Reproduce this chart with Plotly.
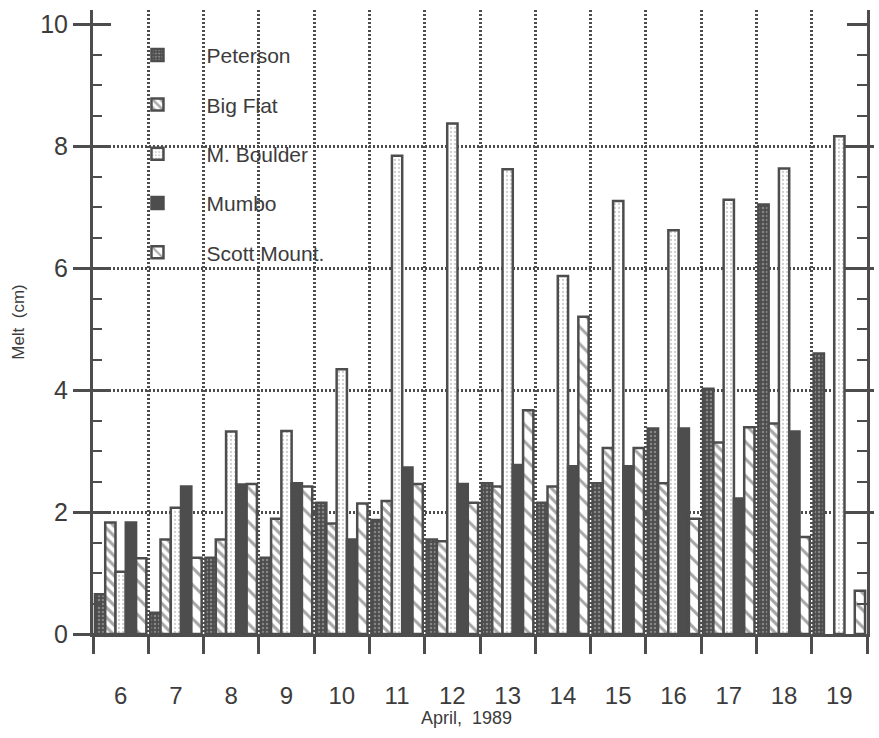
import plotly.graph_objects as go

days = [6, 7, 8, 9, 10, 11, 12, 13, 14, 15, 16, 17, 18, 19]
peterson = [0.65, 0.35, 1.25, 1.25, 2.15, 1.87, 1.55, 2.47, 2.15, 2.47, 3.37, 4.02, 7.04, 4.60]
big_flat = [1.83, 1.55, 1.55, 1.89, 1.81, 2.18, 1.52, 2.42, 2.42, 3.05, 2.47, 3.14, 3.45, None]
m_boulder = [1.02, 2.07, 3.32, 3.33, 4.34, 7.84, 8.37, 7.62, 5.87, 7.10, 6.62, 7.12, 7.63, 8.16]
mumbo = [1.83, 2.42, 2.45, 2.47, 1.55, 2.73, 2.46, 2.77, 2.75, 2.75, 3.37, 2.22, 3.32, None]
scott = [1.24, 1.25, 2.46, 2.42, 2.14, 2.46, 2.15, 3.67, 5.20, 3.05, 1.89, 3.39, 1.59, 0.71]

y_major = [0, 2, 4, 6, 8, 10]
grid_vals = [2, 4, 6, 8]
boundaries = [d - 0.5 for d in days] + [days[-1] + 0.5]

DARK = "#4d4d4d"
TXT = "#3c3c3c"
FONT = "Liberation Sans, Arial, sans-serif"
YR = [0, 10.23]

series = [
    ("Peterson", peterson, dict(color=DARK, pattern=dict(shape=".", bgcolor=DARK, fgcolor="#bdbdbd", size=4, solidity=0.3))),
    ("Big Flat", big_flat, dict(color="white", pattern=dict(shape="\\", bgcolor="white", fgcolor=DARK, size=7, solidity=0.45))),
    ("M. Boulder", m_boulder, dict(color="#eeeeee", pattern=dict(shape=".", bgcolor="white", fgcolor="#a0a0a0", size=4, solidity=0.25))),
    ("Mumbo", mumbo, dict(color=DARK)),
    ("Scott Mount.", scott, dict(color="white", pattern=dict(shape="\\", bgcolor="white", fgcolor=DARK, size=12, solidity=0.25))),
]

fig = go.Figure()
for i, (name, vals, mk) in enumerate(series):
    mk = dict(mk)
    mk["line"] = dict(color=DARK, width=2.5)
    fig.add_trace(go.Bar(x=days, y=vals, name=name, marker=mk,
                         legendgroup=f"g{i}", hoverinfo="skip"))

for ax in ["y2", "y3", "y4"]:
    fig.add_trace(go.Scatter(x=[None], y=[None], yaxis=ax, showlegend=False,
                             hoverinfo="skip", mode="markers"))

fig.update_layout(
    width=879, height=738,
    margin=dict(l=93, r=6, t=10, b=104),
    paper_bgcolor="white", plot_bgcolor="white",
    barmode="group", bargap=0.07, bargroupgap=0,
    font=dict(family=FONT, color=TXT),
    showlegend=True,
    legend=dict(x=0.02, y=0.96, xanchor="left", yanchor="top",
                font=dict(size=21, family=FONT, color=TXT),
                bgcolor="rgba(0,0,0,0)", tracegroupgap=19,
                traceorder="grouped", itemwidth=88),
    xaxis=dict(range=[5.5, 19.5], tickmode="array", tickvals=days,
               ticktext=[str(d) for d in days], ticks="", ticklabelstandoff=38,
               tickfont=dict(size=24, family=FONT, color=TXT),
               showline=True, linecolor=DARK, linewidth=3, showgrid=False,
               zeroline=False,
               minor=dict(tickmode="array", tickvals=boundaries, ticks="outside",
                          ticklen=17, tickwidth=2.5, tickcolor=DARK,
                          showgrid=True, gridcolor=DARK, gridwidth=2.5,
                          griddash="2px,2px")),
    yaxis=dict(range=YR, tickmode="array", tickvals=y_major, ticks="outside",
               ticklen=17, tickwidth=2.5, tickcolor=DARK,
               tickfont=dict(size=25, family=FONT, color=TXT),
               showline=True, linecolor=DARK, linewidth=3, showgrid=False,
               zeroline=False,
               minor=dict(dtick=0.5, tick0=0, ticks="inside", ticklen=9,
                          tickwidth=2, tickcolor=DARK, showgrid=False),
               title=dict(text="Melt  (cm)", font=dict(size=17, family=FONT, color=TXT),
                          standoff=12)),
    yaxis2=dict(range=YR, overlaying="y", side="left", anchor="x",
                tickmode="array", tickvals=y_major, ticks="inside", ticklen=18,
                tickwidth=2.5, tickcolor=DARK, showticklabels=False,
                showline=False, showgrid=False, zeroline=False),
    yaxis3=dict(range=YR, overlaying="y", side="right", anchor="x",
                tickmode="array", tickvals=y_major, ticks="inside", ticklen=20,
                tickwidth=2.5, tickcolor=DARK, showticklabels=False,
                showline=True, linecolor=DARK, linewidth=3, showgrid=False,
                zeroline=False,
                minor=dict(dtick=0.5, tick0=0, ticks="inside", ticklen=10,
                           tickwidth=2, tickcolor=DARK, showgrid=False)),
    yaxis4=dict(range=YR, overlaying="y", side="right", anchor="x",
                tickmode="array", tickvals=grid_vals, ticks="outside", ticklen=6,
                tickwidth=2.5, tickcolor=DARK, showticklabels=False,
                showline=False, showgrid=True, gridcolor=DARK, gridwidth=2.5,
                griddash="2px,2px", zeroline=False),
    annotations=[dict(text="April,  1989", xref="paper", yref="paper",
                      x=(469 - 93) / 780, y=(634 - 718) / 624,
                      xanchor="center", yanchor="middle", showarrow=False,
                      font=dict(size=18, family=FONT, color=TXT))],
)

fig.write_html("out.html")
